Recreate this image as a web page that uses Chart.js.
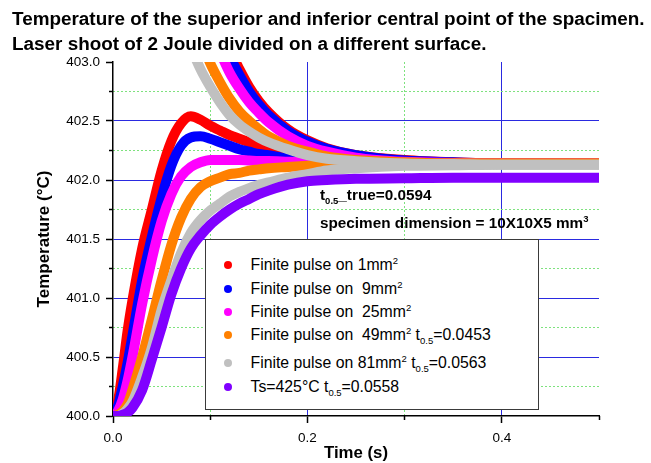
<!DOCTYPE html>
<html>
<head>
<meta charset="utf-8">
<script src="https://cdn.jsdelivr.net/npm/chart.js@4.4.1/dist/chart.umd.min.js"></script>
<style>
  body { margin: 0; background: #fff; }
  #wrap { position: relative; width: 651px; height: 463px; font-family: 'Liberation Sans', Arial, sans-serif; color: #000; }
  #chart { position: absolute; left: 0; top: 0; }
  #title { position: absolute; left: 12px; top: 6px; font-weight: bold; font-size: 18.9px; line-height: 25px; white-space: pre; }
  .note { position: absolute; left: 320px; font-weight: bold; font-size: 15.3px; line-height: 15px; white-space: pre; }
  #legend { position: absolute; left: 205px; top: 239px; width: 334px; height: 171px; box-sizing: border-box;
            border: 1.5px solid #3a3a3a; background: #fff; }
  .row { position: absolute; left: 44.5px; font-size: 15.8px; line-height: 15px; white-space: pre; }
  .dot { position: absolute; left: 17.5px; width: 8px; height: 8px; border-radius: 50%; }
  sup, sub { font-size: 9.5px; line-height: 0; vertical-align: baseline; position: relative; }
  sup { top: -6px; }
  sub { top: 4px; }
</style>
</head>
<body>
<div id="wrap">
  <canvas id="chart" width="651" height="463"></canvas>
  <div id="title"></div>
  <div class="note" style="top:187px">t<sub>0.5</sub>_true=0.0594</div>
  <div class="note" style="top:215px">specimen dimension = 10X10X5 mm<sup>3</sup></div>
  <div id="legend"></div>
</div>
<script>
Chart.defaults.font.family = "'Liberation Sans', Arial, sans-serif";
Chart.defaults.color = '#000';

const titleLines = [
  'Temperature of the superior and inferior central point of the spacimen.',
  'Laser shoot of 2 Joule divided on a different surface.',
];

const times = [0, 0.005, 0.01, 0.015, 0.02, 0.03, 0.04, 0.05, 0.06, 0.07, 0.08, 0.09, 0.10,
  0.11, 0.12, 0.13, 0.14, 0.15, 0.16, 0.18, 0.20, 0.22, 0.25, 0.30, 0.35, 0.40, 0.50];

// rising curves (inferior point)
const redLower = [400.00, 400.12, 400.40, 400.72, 400.98, 401.42, 401.75, 402.08, 402.33, 402.48, 402.54, 402.51, 402.46,
  402.42, 402.38, 402.35, 402.32, 402.29, 402.27, 402.23, 402.20, 402.18, 402.16, 402.145, 402.14, 402.14, 402.14];
const blueLower = [400.00, 400.08, 400.25, 400.45, 400.68, 401.15, 401.52, 401.85, 402.12, 402.29, 402.36, 402.37, 402.35,
  402.32, 402.29, 402.26, 402.24, 402.22, 402.21, 402.18, 402.16, 402.15, 402.145, 402.14, 402.14, 402.14, 402.14];
const magentaLower = [400.00, 400.04, 400.14, 400.30, 400.50, 400.95, 401.33, 401.65, 401.88, 402.03, 402.11, 402.15, 402.17,
  402.17, 402.17, 402.17, 402.165, 402.16, 402.16, 402.155, 402.15, 402.145, 402.14, 402.14, 402.14, 402.14, 402.14];
const orangeLower = [400.00, 400.01, 400.04, 400.10, 400.22, 400.50, 400.82, 401.15, 401.45, 401.68, 401.84, 401.94, 401.99,
  402.02, 402.05, 402.06, 402.08, 402.09, 402.10, 402.11, 402.12, 402.13, 402.135, 402.14, 402.14, 402.14, 402.14];
const grayLower = [400.00, 400.00, 400.02, 400.06, 400.12, 400.33, 400.58, 400.90, 401.15, 401.38, 401.55, 401.66, 401.74,
  401.80, 401.86, 401.90, 401.93, 401.96, 401.98, 402.02, 402.05, 402.08, 402.10, 402.12, 402.125, 402.13, 402.13];
const purpleLower = [400.00, 400.00, 400.01, 400.03, 400.07, 400.22, 400.48, 400.75, 401.03, 401.25, 401.42, 401.53, 401.62,
  401.69, 401.75, 401.80, 401.84, 401.88, 401.91, 401.96, 401.99, 402.00, 402.01, 402.015, 402.02, 402.02, 402.02];

// falling curves (superior point), off the top of the axis early on
const redUpper = [null, null, null, null, null, null, null, null, null, null, 404.30, 403.90, 403.58,
  403.33, 403.11, 402.94, 402.79, 402.67, 402.575, 402.43, 402.336, 402.27, 402.21, 402.17, 402.15, 402.14, 402.14];
const blueUpper = [null, null, null, null, null, null, null, null, null, null, 404.17, 403.80, 403.50,
  403.26, 403.05, 402.89, 402.75, 402.64, 402.55, 402.415, 402.325, 402.264, 402.21, 402.165, 402.15, 402.14, 402.14];
const magentaUpper = [null, null, null, null, null, null, null, null, null, null, 403.86, 403.55, 403.29,
  403.09, 402.91, 402.775, 402.66, 402.57, 402.49, 402.37, 402.29, 402.24, 402.19, 402.155, 402.145, 402.14, 402.14];
const orangeUpper = [null, null, null, null, null, null, null, null, 404.08, 403.72, 403.43, 403.20, 402.99,
  402.83, 402.69, 402.58, 402.50, 402.43, 402.37, 402.29, 402.24, 402.20, 402.17, 402.15, 402.14, 402.14, 402.14];
const grayUpper = [null, null, null, null, null, null, null, 404.00, 403.65, 403.36, 403.13, 402.94, 402.79,
  402.66, 402.55, 402.47, 402.41, 402.36, 402.32, 402.26, 402.21, 402.18, 402.16, 402.14, 402.135, 402.13, 402.13];

const legendLabels = [
  'Finite pulse on 1mm<sup>2</sup>',
  'Finite pulse on  9mm<sup>2</sup>',
  'Finite pulse on  25mm<sup>2</sup>',
  'Finite pulse on  49mm<sup>2</sup> t<sub>0.5</sub>=0.0453',
  'Finite pulse on 81mm<sup>2</sup> t<sub>0.5</sub>=0.0563',
  'Ts=425°C t<sub>0.5</sub>=0.0558',
];

const xMajorTicks = [0, 0.2, 0.4];
const xMinorTicks = [0.1, 0.3, 0.5];
const yMajorTicks = [400, 400.5, 401, 401.5, 402, 402.5, 403];
const yMinorTicks = [400.25, 400.75, 401.25, 401.75, 402.25, 402.75];

const series = [
  { color: '#ff0000', lower: redLower, upper: redUpper },
  { color: '#0000ff', lower: blueLower, upper: blueUpper },
  { color: '#ff00ff', lower: magentaLower, upper: magentaUpper },
  { color: '#ff8000', lower: orangeLower, upper: orangeUpper },
  { color: '#c0c0c0', lower: grayLower, upper: grayUpper },
  { color: '#8000ff', lower: purpleLower, upper: null },
];

const BLUE_GRID = '#2a2ae0';
const GREEN_GRID = '#7ee27e';
const NONE = 'rgba(0,0,0,0)';

document.getElementById('title').textContent = titleLines.join('\n');

const datasets = [];
series.forEach((s, i) => {
  [s.lower, s.upper].forEach(vals => {
    if (!vals) return;
    datasets.push({
      data: times.map((t, k) => ({ x: t, y: vals[k] })),
      borderColor: s.color,
      borderWidth: 10,
      pointRadius: 0,
      fill: false,
      cubicInterpolationMode: 'monotone',
      clip: 0,
      order: series.length - i, // later colours painted on top
    });
  });
});

new Chart(document.getElementById('chart'), {
  type: 'line',
  data: { datasets },
  options: {
    responsive: false, animation: false,
    layout: { padding: { left: 12, right: 52, top: 62, bottom: 0 } },
    plugins: {
      legend: { display: false },
      tooltip: { enabled: false },
    },
    scales: {
      x: {
        type: 'linear', position: 'bottom', min: 0, max: 0.5, weight: 1,
        afterBuildTicks: s => { s.ticks = xMajorTicks.map(v => ({ value: v })); },
        afterFit: s => { s.height = 47; },
        ticks: { autoSkip: false, maxRotation: 0, padding: 7, font: { size: 13.5 }, callback: v => v.toFixed(1) },
        grid: { color: c => (c.tick && c.tick.value > 0 ? BLUE_GRID : NONE), tickLength: 7, tickColor: '#000', tickWidth: 1.5 },
        border: { color: '#000', width: 1.5 },
        title: { display: true, text: 'Time (s)', font: { size: 16.8, weight: 'bold' }, padding: { top: 0, bottom: 0 } },
      },
      x2: {
        type: 'linear', position: 'bottom', min: 0, max: 0.5, weight: 0,
        afterBuildTicks: s => { s.ticks = xMinorTicks.map(v => ({ value: v })); },
        afterFit: s => { s.height = 0; },
        ticks: { display: false },
        grid: { color: c => (c.tick && c.tick.value < 0.5 ? GREEN_GRID : NONE), tickLength: 4, tickColor: '#000', tickWidth: 1.5 },
        border: { display: false, dash: [2, 2] },
      },
      y: {
        type: 'linear', position: 'left', min: 400, max: 403, weight: 1,
        afterBuildTicks: s => { s.ticks = yMajorTicks.map(v => ({ value: v })); },
        afterFit: s => { s.width = 101; },
        ticks: { autoSkip: false, padding: 6, font: { size: 13.5 }, callback: v => v.toFixed(1) },
        grid: { color: c => (c.tick && c.tick.value > 400 && c.tick.value < 403 ? BLUE_GRID : NONE), tickLength: 7, tickColor: '#000', tickWidth: 1.5 },
        border: { color: '#000', width: 1.5 },
        title: { display: true, text: 'Temperature (°C)', font: { size: 17, weight: 'bold' }, padding: { top: 21.8, bottom: 0 } },
      },
      y2: {
        type: 'linear', position: 'left', min: 400, max: 403, weight: 0,
        afterBuildTicks: s => { s.ticks = yMinorTicks.map(v => ({ value: v })); },
        afterFit: s => { s.width = 0; },
        ticks: { display: false },
        grid: { color: GREEN_GRID, tickLength: 4, tickColor: '#000', tickWidth: 1.5 },
        border: { display: false, dash: [2, 2] },
      },
    },
  },
});

// legend box with super/subscripts
const legendRowCenters = [265, 289, 312, 335, 363, 387];
const legendEl = document.getElementById('legend');
legendLabels.forEach((label, i) => {
  const yc = legendRowCenters[i] - 239 - 1.5;
  const dot = document.createElement('div');
  dot.className = 'dot';
  dot.style.top = (yc - 4) + 'px';
  dot.style.background = series[i].color;
  legendEl.appendChild(dot);
  const row = document.createElement('div');
  row.className = 'row';
  row.style.top = (yc - 7.5) + 'px';
  row.innerHTML = label;
  legendEl.appendChild(row);
});
</script>
</body>
</html>
